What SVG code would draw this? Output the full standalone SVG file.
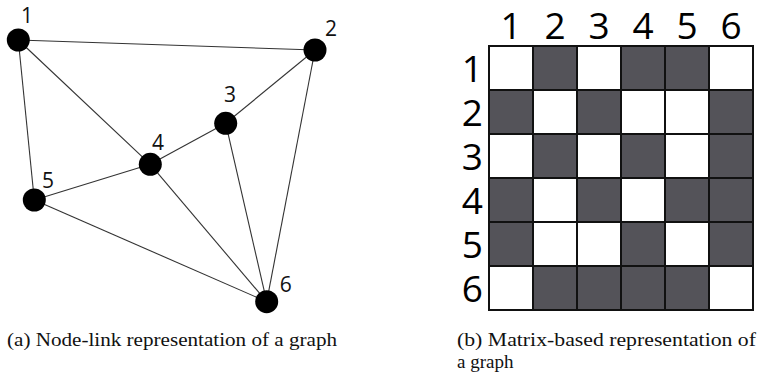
<svg xmlns="http://www.w3.org/2000/svg" width="762" height="377" viewBox="0 0 762 377">
<style>
.edge{stroke:#333;stroke-width:1.1;fill:none}
.node{fill:#000}
.nl{font-family:"Open Sans","DejaVu Sans",sans-serif;font-size:21px;fill:#111;text-anchor:middle}
.ml{font-family:"Open Sans","DejaVu Sans",sans-serif;font-size:37px;fill:#000;text-anchor:middle}
.rl{font-family:"Open Sans","DejaVu Sans",sans-serif;font-size:37px;fill:#000;text-anchor:end}
.w{fill:#fff;stroke:#111;stroke-width:2}
.d{fill:#545359;stroke:#111;stroke-width:2}
.cap{font-family:"Liberation Serif","Times New Roman",serif;font-size:19px;fill:#111}
</style>
<rect width="762" height="377" fill="#fff"/>
<g id="connectors">
<line class="edge" x1="18.3" y1="40" x2="315" y2="50"/>
<line class="edge" x1="18.3" y1="40" x2="150.3" y2="164.3"/>
<line class="edge" x1="18.3" y1="40" x2="34.3" y2="200"/>
<line class="edge" x1="315" y1="50" x2="225.7" y2="123.3"/>
<line class="edge" x1="315" y1="50" x2="266.7" y2="301.7"/>
<line class="edge" x1="225.7" y1="123.3" x2="150.3" y2="164.3"/>
<line class="edge" x1="225.7" y1="123.3" x2="266.7" y2="301.7"/>
<line class="edge" x1="150.3" y1="164.3" x2="34.3" y2="200"/>
<line class="edge" x1="150.3" y1="164.3" x2="266.7" y2="301.7"/>
<line class="edge" x1="34.3" y1="200" x2="266.7" y2="301.7"/>
</g>
<g id="node1"><circle class="node" cx="18.3" cy="40" r="11.5"/><text class="nl" x="27" y="23">1</text></g>
<g id="node2"><circle class="node" cx="315" cy="50" r="11.5"/><text class="nl" x="331" y="36">2</text></g>
<g id="node3"><circle class="node" cx="225.7" cy="123.3" r="11.5"/><text class="nl" x="230" y="101.7">3</text></g>
<g id="node4"><circle class="node" cx="150.3" cy="164.3" r="11.5"/><text class="nl" x="158" y="150">4</text></g>
<g id="node5"><circle class="node" cx="34.3" cy="200" r="11.5"/><text class="nl" x="48" y="188">5</text></g>
<g id="node6"><circle class="node" cx="266.7" cy="301.7" r="11.5"/><text class="nl" x="285.7" y="291.7">6</text></g>
<g id="matrix">
<g id="col-labels">
<text class="ml" x="511" y="39">1</text><text class="ml" x="555" y="39">2</text><text class="ml" x="599" y="39">3</text><text class="ml" x="643" y="39">4</text><text class="ml" x="687" y="39">5</text><text class="ml" x="731" y="39">6</text>
</g>
<g id="row-labels">
<text class="rl" x="483" y="82">1</text><text class="rl" x="483" y="126">2</text><text class="rl" x="483" y="170">3</text><text class="rl" x="483" y="214">4</text><text class="rl" x="483" y="258">5</text><text class="rl" x="483" y="302">6</text>
</g>
<g id="cells">
<rect class="w" x="489" y="46" width="44" height="44"/><rect class="d" x="533" y="46" width="44" height="44"/><rect class="w" x="577" y="46" width="44" height="44"/><rect class="d" x="621" y="46" width="44" height="44"/><rect class="d" x="665" y="46" width="44" height="44"/><rect class="w" x="709" y="46" width="44" height="44"/>
<rect class="d" x="489" y="90" width="44" height="44"/><rect class="w" x="533" y="90" width="44" height="44"/><rect class="d" x="577" y="90" width="44" height="44"/><rect class="w" x="621" y="90" width="44" height="44"/><rect class="w" x="665" y="90" width="44" height="44"/><rect class="d" x="709" y="90" width="44" height="44"/>
<rect class="w" x="489" y="134" width="44" height="44"/><rect class="d" x="533" y="134" width="44" height="44"/><rect class="w" x="577" y="134" width="44" height="44"/><rect class="d" x="621" y="134" width="44" height="44"/><rect class="w" x="665" y="134" width="44" height="44"/><rect class="d" x="709" y="134" width="44" height="44"/>
<rect class="d" x="489" y="178" width="44" height="44"/><rect class="w" x="533" y="178" width="44" height="44"/><rect class="d" x="577" y="178" width="44" height="44"/><rect class="w" x="621" y="178" width="44" height="44"/><rect class="d" x="665" y="178" width="44" height="44"/><rect class="d" x="709" y="178" width="44" height="44"/>
<rect class="d" x="489" y="222" width="44" height="44"/><rect class="w" x="533" y="222" width="44" height="44"/><rect class="w" x="577" y="222" width="44" height="44"/><rect class="d" x="621" y="222" width="44" height="44"/><rect class="w" x="665" y="222" width="44" height="44"/><rect class="d" x="709" y="222" width="44" height="44"/>
<rect class="w" x="489" y="266" width="44" height="44"/><rect class="d" x="533" y="266" width="44" height="44"/><rect class="d" x="577" y="266" width="44" height="44"/><rect class="d" x="621" y="266" width="44" height="44"/><rect class="d" x="665" y="266" width="44" height="44"/><rect class="w" x="709" y="266" width="44" height="44"/>
</g>
</g>
<g id="captions">
<text class="cap" x="7" y="346" textLength="330" lengthAdjust="spacingAndGlyphs">(a)  Node-link representation of a graph</text>
<text class="cap" x="457" y="346" textLength="299" lengthAdjust="spacingAndGlyphs">(b)  Matrix-based representation of</text>
<text class="cap" x="457" y="368">a graph</text>
</g>
</svg>
